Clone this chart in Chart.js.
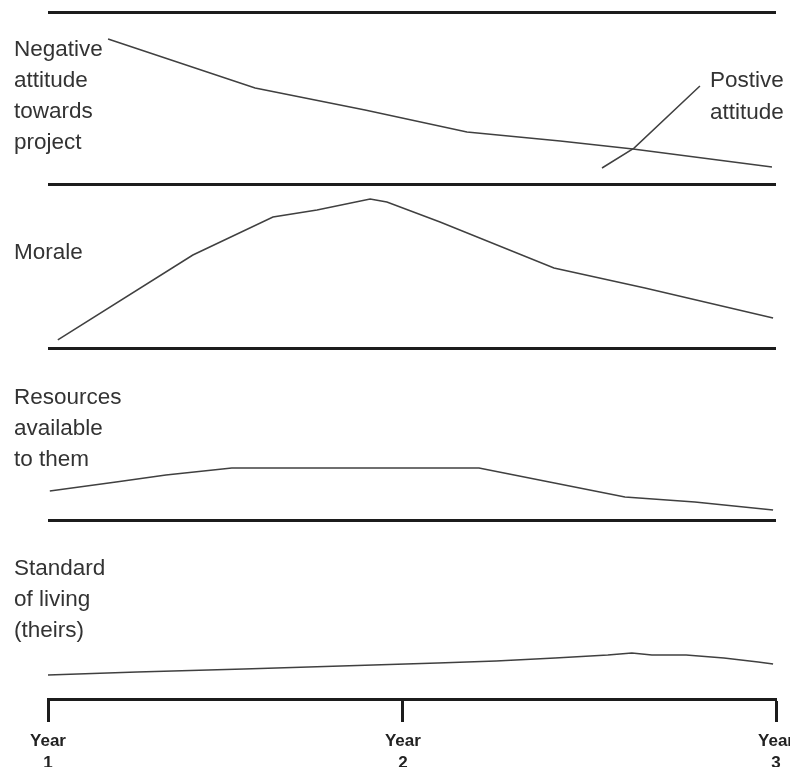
<!DOCTYPE html>
<html>
<head>
<meta charset="utf-8">
<script src="https://cdn.jsdelivr.net/npm/chart.js@4/dist/chart.umd.min.js"></script>
<style>
  html, body { margin: 0; padding: 0; background: #ffffff; }
  canvas { display: block; }
</style>
</head>
<body>
<canvas id="c" width="790" height="767"></canvas>
<script>
// ---- data (x in years, y normalised 0-100 within each panel) ----
const tickValues = [1, 1.975, 3];
const tickLabels = [["Year", "1"], ["Year", "2"], ["Year", "3"]];

const negativeX = [1.165, 1.569, 1.871, 2.151, 2.407, 2.607, 2.989];
const negativeY = [84.3, 55.8, 43.0, 30.2, 25.0, 20.3, 9.9];

const positiveX = [2.522, 2.610, 2.791];
const positiveY = [9.3, 20.9, 57.0];

const moraleX = [1.027, 1.398, 1.618, 1.739, 1.885, 1.931, 2.077, 2.390, 2.640, 2.992];
const moraleY = [4.9, 56.7, 79.9, 84.1, 90.9, 89.0, 76.8, 48.8, 36.6, 18.3];

const resourcesX = [1.005, 1.187, 1.324, 1.505, 2.184, 2.253, 2.585, 2.777, 2.992];
const resourcesY = [16.9, 22.1, 26.2, 30.2, 30.2, 27.3, 13.4, 10.5, 5.8];

const standardX = [1.000, 1.245, 1.538, 1.805, 2.071, 2.231, 2.393, 2.538, 2.604, 2.659, 2.753, 2.857, 2.951, 2.992];
const standardY = [13.4, 15.1, 16.8, 18.4, 20.1, 21.2, 22.9, 24.6, 25.7, 24.6, 24.6, 22.9, 20.7, 19.6];

const panelLabels = [
  ["Negative", "attitude", "towards", "project"],
  ["Morale"],
  ["Resources", "available", "to them"],
  ["Standard", "of living", "(theirs)"]
];
const positiveLabel = ["Postive", "attitude"];

// ---- styling / layout (kept separate from data) ----
const INK = '#1c1c1c';
const LINE = '#404040';
const TEXT = '#333333';
const LABEL_FONT = '22.5px "Liberation Sans", Arial, sans-serif';
const panelLabelOffsets = [38, 69, 50, 49];  // px from panel top to first line centre
const LINE_STEP = 31;

const pts = (xs, ys) => xs.map((x, i) => ({ x: x, y: ys[i] }));

function lineDs(label, xs, ys, axis) {
  return {
    label: label,
    data: pts(xs, ys),
    yAxisID: axis,
    borderColor: LINE,
    borderWidth: 1.5,
    pointRadius: 0,
    tension: 0,
    fill: false,
    clip: false
  };
}

function panelScale(weight) {
  return {
    type: 'linear',
    position: 'left',
    stack: 'panels',
    stackWeight: weight,
    min: 0,
    max: 100,
    afterBuildTicks: s => { s.ticks = [{ value: 0 }, { value: 100 }]; },
    afterFit: s => { s.width = 0; },
    ticks: { display: false },
    grid: { drawTicks: false, color: INK, lineWidth: 3 },
    border: { display: false }
  };
}

const labelsPlugin = {
  id: 'panelText',
  afterDraw(chart) {
    const ctx = chart.ctx;
    ctx.save();
    ctx.font = LABEL_FONT;
    ctx.fillStyle = TEXT;
    ctx.textBaseline = 'middle';
    ctx.textAlign = 'left';
    const ids = ['yAtt', 'yMor', 'yRes', 'yStd'];
    ids.forEach((id, p) => {
      const sc = chart.scales[id];
      panelLabels[p].forEach((t, k) => {
        ctx.fillText(t, 14, sc.top + panelLabelOffsets[p] + k * LINE_STEP);
      });
    });
    // label at end of the positive-attitude line
    const meta = chart.getDatasetMeta(1);
    const last = meta.data[meta.data.length - 1];
    positiveLabel.forEach((t, k) => {
      ctx.fillText(t, last.x + 10, last.y - 5 + k * 32);
    });
    ctx.restore();
  }
};

new Chart(document.getElementById('c'), {
  type: 'line',
  data: {
    datasets: [
      lineDs('Negative attitude towards project', negativeX, negativeY, 'yAtt'),
      lineDs('Postive attitude', positiveX, positiveY, 'yAtt'),
      lineDs('Morale', moraleX, moraleY, 'yMor'),
      lineDs('Resources available to them', resourcesX, resourcesY, 'yRes'),
      lineDs('Standard of living (theirs)', standardX, standardY, 'yStd')
    ]
  },
  options: {
    responsive: false,
    animation: false,
    events: [],
    layout: { padding: { left: 48, right: 14, top: 12, bottom: 0 } },
    plugins: { legend: { display: false }, tooltip: { enabled: false }, title: { display: false } },
    scales: {
      x: {
        type: 'linear',
        position: 'bottom',
        min: 1,
        max: 3,
        afterBuildTicks: s => { s.ticks = tickValues.map(v => ({ value: v })); },
        afterFit: s => { s.height = 68; s.paddingLeft = 0; s.paddingRight = 0; },
        ticks: {
          autoSkip: false,
          maxRotation: 0,
          padding: 9,
          color: '#222',
          font: { family: '"Liberation Sans", Arial, sans-serif', size: 17, weight: 'bold', lineHeight: 1.25 },
          callback: (v, i) => tickLabels[i]
        },
        grid: { drawOnChartArea: false, drawTicks: true, tickLength: 23, tickWidth: 3, tickColor: INK },
        border: { display: true, width: 3, color: INK }
      },
      yStd: panelScale(179),
      yRes: panelScale(172),
      yMor: panelScale(164),
      yAtt: panelScale(172)
    }
  },
  plugins: [labelsPlugin]
});
</script>
</body>
</html>
